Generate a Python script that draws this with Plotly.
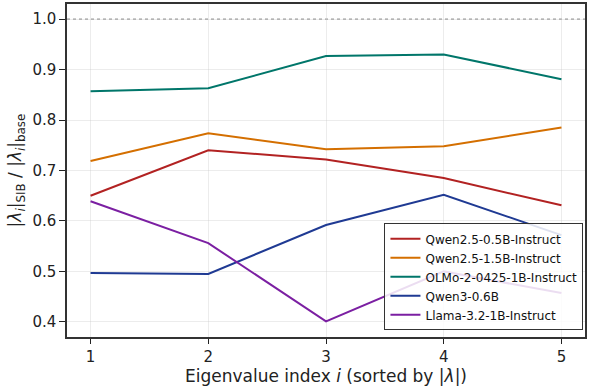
import plotly.graph_objects as go

x_idx = [1, 2, 3, 4, 5]
series_names = ["Qwen2.5-0.5B-Instruct", "Qwen2.5-1.5B-Instruct", "OLMo-2-0425-1B-Instruct",
                "Qwen3-0.6B", "Llama-3.2-1B-Instruct"]
qwen05 = [0.650, 0.740, 0.722, 0.685, 0.631]
qwen15 = [0.719, 0.774, 0.742, 0.748, 0.785]
olmo = [0.857, 0.863, 0.927, 0.930, 0.881]
qwen3 = [0.497, 0.495, 0.592, 0.652, 0.572]
llama = [0.639, 0.556, 0.401, 0.500, 0.457]
series_values = [qwen05, qwen15, olmo, qwen3, llama]
colors = ["#B22222", "#D46F00", "#00766A", "#1F3A93", "#7B1FA2"]

fig = go.Figure()
for name, vals, c in zip(series_names, series_values, colors):
    fig.add_trace(go.Scatter(x=x_idx, y=vals, mode="lines", name=name,
                             line=dict(color=c, width=2)))

fig.add_hline(y=1.0, line=dict(color="#777777", width=1, dash="dot"), layer="below")

font_family = "DejaVu Sans"
fig.update_layout(
    width=589, height=388,
    margin=dict(l=67, r=4, t=4, b=51, autoexpand=False),
    paper_bgcolor="white", plot_bgcolor="white",
    font=dict(family=font_family, color="#222222", size=15),
    showlegend=True,
    legend=dict(x=0.997, y=0.02, xanchor="right", yanchor="bottom",
                bgcolor="rgba(255,255,255,0.85)", bordercolor="#333333", borderwidth=1,
                font=dict(size=12, family=font_family, color="#111111"),
                tracegroupgap=0, itemwidth=30),
    xaxis=dict(range=[0.8, 5.2], tickvals=x_idx, ticktext=[str(v) for v in x_idx],
               showgrid=True, gridcolor="rgba(200,200,200,0.35)", gridwidth=1,
               zeroline=False, showline=True, linecolor="#333333", linewidth=1.5, mirror=True,
               ticks="outside", ticklen=5, tickwidth=1.2, tickcolor="#222222",
               tickfont=dict(size=15), automargin=False,
               title=dict(text="Eigenvalue index <i>i</i> (sorted by |<i>λ</i>|)",
                          font=dict(size=17), standoff=3)),
    yaxis=dict(range=[0.37, 1.03], tickvals=[0.4, 0.5, 0.6, 0.7, 0.8, 0.9, 1.0],
               ticktext=["0.4", "0.5", "0.6", "0.7", "0.8", "0.9", "1.0"],
               showgrid=True, gridcolor="rgba(200,200,200,0.35)", gridwidth=1,
               zeroline=False, showline=True, linecolor="#333333", linewidth=1.5, mirror=True,
               ticks="outside", ticklen=6, tickwidth=1.2, tickcolor="#222222",
               tickfont=dict(size=15), automargin=False,
               title=dict(text="|<i>λ<sub>i</sub></i>|<sub>SIB</sub> / |<i>λ<sub>i</sub></i>|<sub>base</sub>",
                          font=dict(size=17), standoff=6)),
)

fig.write_html("out.html", config={"displayModeBar": False},
               post_script="document.body.style.margin='0px';")
